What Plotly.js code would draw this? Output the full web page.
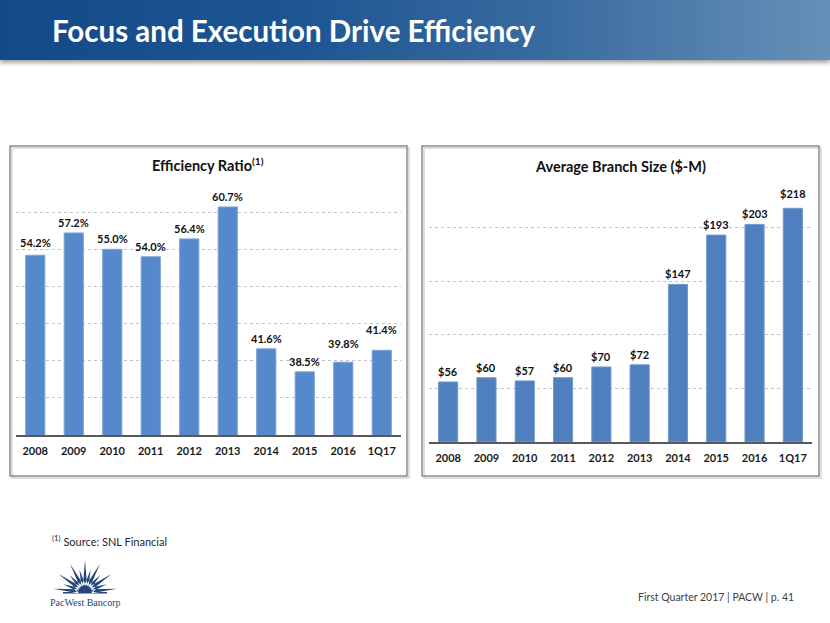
<!DOCTYPE html>
<html>
<head>
<meta charset="utf-8">
<script src="https://cdn.plot.ly/plotly-3.0.1.min.js"></script>
<style>
  html, body { margin: 0; padding: 0; background: #ffffff; }
  #wrap { position: relative; width: 830px; height: 623px; overflow: hidden; background: #ffffff; }
  #header { position: absolute; left: 0; top: 0; width: 830px; height: 60px;
    background: linear-gradient(90deg, #14498a 0%, #1d5592 35%, #386a9f 65%, #6690b8 100%);
    box-shadow: 0 3px 4px rgba(0,0,0,0.35); }
  #chart { position: absolute; left: 0; top: 0; width: 830px; height: 623px; }
</style>
</head>
<body>
<div id="wrap">
  <div id="header"></div>
  <div id="chart"></div>
</div>
<script>
// ---- data ----
const categories = ['2008', '2009', '2010', '2011', '2012', '2013', '2014', '2015', '2016', '1Q17'];
const efficiencyRatio = [54.2, 57.2, 55.0, 54.0, 56.4, 60.7, 41.6, 38.5, 39.8, 41.4];
const avgBranchSize = [56, 60, 57, 60, 70, 72, 147, 193, 203, 218];
const leftTitle = 'Efficiency Ratio<sup>(1)</sup>';
const rightTitle = 'Average Branch Size ($-M)';
const pageTitle = 'Focus and Execution Drive Efficiency';
const footnote = '<sup>(1)</sup> Source: SNL Financial';
const footerRight = 'First Quarter 2017 | PACW | p. 41';

// ---- layout helpers (page is 830 x 623, margins 0) ----
const W = 830, H = 623;
const px = v => v / W;
const py = v => 1 - v / H;
const boldFont = (size, color) => ({ family: 'Lato, "Open Sans", sans-serif', size: size, color: color || '#111111', weight: 'bold' });

// per-label extra lift (pixels) for labels nudged in the original
const leftLift = [2, 0, 0, 0, 0, 0, 0, 0, 8, 10];
const rightLift = [0, 0, 0, 0, 0, 0, 0, 0, 0, 4];

const traces = [
  {
    type: 'bar', x: categories, y: efficiencyRatio, xaxis: 'x', yaxis: 'y',
    marker: { color: '#5689cb', line: { color: '#7ea6d8', width: 1 } },
    hoverinfo: 'skip', showlegend: false
  },
  {
    type: 'bar', x: categories, y: avgBranchSize, xaxis: 'x2', yaxis: 'y2',
    marker: { color: '#4f7fbe', line: { color: '#7299cc', width: 1 } },
    hoverinfo: 'skip', showlegend: false
  }
];

const annotations = [];
categories.forEach((c, i) => {
  annotations.push({
    x: i, y: efficiencyRatio[i], xref: 'x', yref: 'y', xanchor: 'center', yanchor: 'bottom', yshift: 2 + leftLift[i],
    text: efficiencyRatio[i].toFixed(1) + '%', showarrow: false, font: boldFont(11)
  });
  annotations.push({
    x: i, y: avgBranchSize[i], xref: 'x2', yref: 'y2', xanchor: 'center', yanchor: 'bottom', yshift: 2 + rightLift[i],
    text: '$' + avgBranchSize[i], showarrow: false, font: boldFont(11)
  });
});
const pa = { xref: 'paper', yref: 'paper', showarrow: false, yanchor: 'middle' };
annotations.push(
  Object.assign({}, pa, { x: px(208.5), y: py(165), xanchor: 'center', text: leftTitle, font: boldFont(14.5) }),
  Object.assign({}, pa, { x: px(620.5), y: py(166), xanchor: 'center', text: rightTitle, font: boldFont(14.5) }),
  Object.assign({}, pa, { x: px(50), y: py(31), xanchor: 'left', text: pageTitle, font: boldFont(29.5, '#ffffff') }),
  Object.assign({}, pa, { x: px(50), y: py(540), xanchor: 'left', text: footnote,
    font: { family: 'Lato, sans-serif', size: 11, color: '#262626' } }),
  Object.assign({}, pa, { x: px(636), y: py(597), xanchor: 'left', text: footerRight,
    font: { family: 'Lato, sans-serif', size: 10.5, color: '#404040' } }),
  Object.assign({}, pa, { x: px(85.5), y: py(602), xanchor: 'center', text: 'PacWest Bancorp',
    font: { family: '"Liberation Serif", "DejaVu Serif", serif', size: 10, color: '#24467a' } })
);

// logo starburst (decoration)
function starburst(cx, cy) {
  let d = '';
  const n = 13;
  for (let k = 0; k < n; k++) {
    const a = Math.PI * (6 + k * (168 / (n - 1))) / 180;
    const len = (k % 2 === 0) ? 32 : 23;
    const r0 = 7, hw = 0.3;
    const p1 = [cx + r0 * Math.cos(a - hw), cy - r0 * Math.sin(a - hw)];
    const p2 = [cx + len * Math.cos(a), cy - len * Math.sin(a)];
    const p3 = [cx + r0 * Math.cos(a + hw), cy - r0 * Math.sin(a + hw)];
    d += `M${px(p1[0])},${py(p1[1])} L${px(p2[0])},${py(p2[1])} L${px(p3[0])},${py(p3[1])} Z `;
  }
  d += `M${px(cx - 9)},${py(cy)} Q${px(cx)},${py(cy - 14)} ${px(cx + 9)},${py(cy)} Z `;
  d += `M${px(cx - 22)},${py(cy)} L${px(cx + 22)},${py(cy)} L${px(cx + 22)},${py(cy + 1.4)} L${px(cx - 22)},${py(cy + 1.4)} Z`;
  return d;
}

const shapes = [
  { type: 'rect', xref: 'paper', yref: 'paper', x0: px(12), x1: px(409), y0: py(478), y1: py(148),
    line: { color: '#dedede', width: 2 }, layer: 'below' },
  { type: 'rect', xref: 'paper', yref: 'paper', x0: px(424), x1: px(821), y0: py(478), y1: py(148),
    line: { color: '#dedede', width: 2 }, layer: 'below' },
  { type: 'rect', xref: 'paper', yref: 'paper', x0: px(10), x1: px(407), y0: py(476), y1: py(146),
    line: { color: '#8c8c8c', width: 1.5 }, layer: 'below' },
  { type: 'rect', xref: 'paper', yref: 'paper', x0: px(422), x1: px(819), y0: py(476), y1: py(146),
    line: { color: '#8c8c8c', width: 1.5 }, layer: 'below' },
  { type: 'path', xref: 'paper', yref: 'paper', path: starburst(85, 592),
    fillcolor: '#24467a', line: { width: 0 } }
];

const axisX = {
  type: 'category', range: [-0.5, 9.5], autorange: false, showgrid: false, zeroline: false,
  showline: true, linecolor: '#595959', linewidth: 1.5,
  ticks: '', ticklabelstandoff: 5, tickfont: boldFont(11, '#1a1a1a'), fixedrange: true
};
const axisY = {
  showgrid: true, gridcolor: '#c4c4c4', griddash: 'dot', gridwidth: 1, zeroline: false,
  showticklabels: false, ticks: '', fixedrange: true, autorange: false
};

const layout = {
  width: W, height: H,
  margin: { l: 0, r: 0, t: 0, b: 0 },
  paper_bgcolor: 'rgba(0,0,0,0)', plot_bgcolor: 'rgba(0,0,0,0)',
  bargap: 0.5,
  showlegend: false,
  xaxis: Object.assign({}, axisX, { domain: [px(16), px(401)], anchor: 'y' }),
  yaxis: Object.assign({}, axisY, { domain: [py(435), py(175)], range: [30, 65], dtick: 5, tick0: 30, anchor: 'x' }),
  xaxis2: Object.assign({}, axisX, { domain: [px(429), px(812)], anchor: 'y2' }),
  yaxis2: Object.assign({}, axisY, { domain: [py(442), py(174)], range: [0, 250], dtick: 50, tick0: 0, anchor: 'x2' }),
  annotations: annotations,
  shapes: shapes
};

Plotly.newPlot('chart', traces, layout, { staticPlot: true, displayModeBar: false });
</script>
</body>
</html>
